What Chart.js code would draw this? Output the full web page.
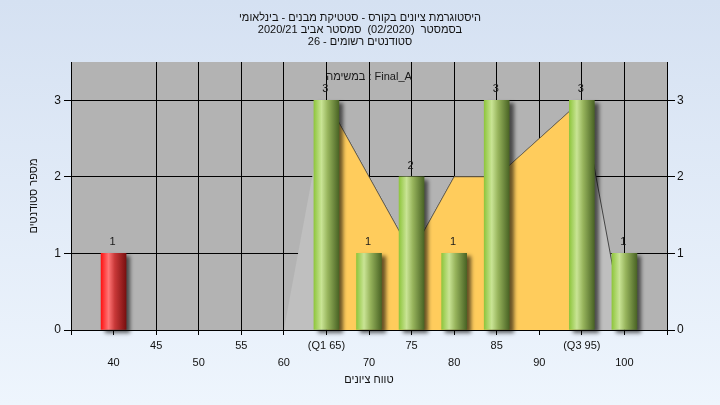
<!DOCTYPE html>
<html lang="he">
<head>
<meta charset="utf-8">
<title>היסטוגרמת ציונים</title>
<script src="https://cdn.jsdelivr.net/npm/chart.js@4/dist/chart.umd.min.js"></script>
<style>
  html, body { margin: 0; padding: 0; }
  body { width: 720px; height: 405px; overflow: hidden; background: linear-gradient(to bottom, #d5e1f2, #eef5fd); }
  #wrap { position: relative; width: 720px; height: 405px; }
</style>
</head>
<body>
<div id="wrap"><canvas id="histChart"></canvas></div>
<script>
const FONT = "'Liberation Sans', Arial, 'DejaVu Sans', sans-serif";

const TITLE_LINES = [
  'היסטוגרמת ציונים בקורס - סטטיקת מבנים - בינלאומי',
  'בסמסטר  (02/2020)  סמסטר אביב 2020/21',
  'סטודנטים רשומים - 26',
];
const TASK_LABEL = 'במשימה : Final_A';
const X_TITLE = 'טווח ציונים';
const Y_TITLE = 'מספר סטודנטים';

// histogram bins (grade) and number of students
const GRADES = [40, 65, 70, 75, 80, 85, 95, 100];
const COUNTS = [1, 3, 1, 2, 1, 3, 3, 1];

// polygon drawn behind the bars, the Q1..Q3 part is yellow
const CURVE_X = [60, 65, 75, 80, 85, 95, 100];
const CURVE_Y = [0, 3, 1, 2, 2, 3, 0];
const Q1 = 65, Q3 = 95;

// axis ticks; x labels alternate between two rows
const X_TICKS = [35, 40, 45, 50, 55, 60, 65, 70, 75, 80, 85, 90, 95, 100, 105];
const X_UPPER = ['', '', '45', '', '55', '', '(Q1 65)', '', '75', '', '85', '', '(Q3 95)', '', ''];
const X_LOWER = ['', '40', '', '50', '', '60', '', '70', '', '80', '', '90', '', '100', ''];
const Y_TICKS = [0, 1, 2, 3];

const PLOT_BG = '#b3b3b3';
const GREEN_STOPS = [[0, '#8fc63e'], [0.3, '#c9e495'], [0.55, '#97b45c'], [1, '#4a6425']];
const RED_STOPS = [[0, '#ff1414'], [0.3, '#ff7676'], [0.55, '#c83838'], [1, '#7a1010']];
const BAR_W = 25;

function barFill(ctx) {
  const xs = ctx.chart.scales.x;
  const fallback = ctx.dataIndex === 0 ? '#e03030' : '#9cc84a';
  if (!xs || ctx.type !== 'data') return fallback;
  const px = xs.getPixelForValue(GRADES[ctx.dataIndex]);
  if (!isFinite(px)) return fallback;
  const g = ctx.chart.ctx.createLinearGradient(px - BAR_W / 2, 0, px + BAR_W / 2, 0);
  (ctx.dataIndex === 0 ? RED_STOPS : GREEN_STOPS).forEach(([o, c]) => g.addColorStop(o, c));
  return g;
}

const plotBg = {
  id: 'plotBg',
  beforeDraw(chart) {
    const { ctx, chartArea: a } = chart;
    ctx.save();
    ctx.fillStyle = PLOT_BG;
    ctx.fillRect(a.left, a.top, a.right - a.left, a.bottom - a.top);
    ctx.restore();
  }
};

// soft shadow to the lower right of the bars
const barShadow = {
  id: 'barShadow',
  beforeDatasetDraw(chart, args) {
    if (args.meta.type !== 'bar') return;
    const c = chart.ctx;
    c.save();
    c.shadowColor = 'rgba(0,0,0,0.6)';
    c.shadowBlur = 4;
    c.shadowOffsetX = 4;
    c.shadowOffsetY = 3;
  },
  afterDatasetDraw(chart, args) {
    if (args.meta.type !== 'bar') return;
    chart.ctx.restore();
  }
};

const valueLabels = {
  id: 'valueLabels',
  afterDatasetsDraw(chart) {
    const c = chart.ctx;
    const a = chart.chartArea;
    c.save();
    c.font = '11px ' + FONT;
    c.fillStyle = '#1a1a1a';
    c.textAlign = 'center';
    c.textBaseline = 'middle';
    chart.getDatasetMeta(0).data.forEach((bar, i) => {
      c.fillText(String(COUNTS[i]), bar.x - 1, bar.y - 11);
    });
    c.fillText(TASK_LABEL, (a.left + a.right) / 2, a.top + 15);
    c.restore();
  }
};

const curve = CURVE_X.map((x, i) => ({ x, y: CURVE_Y[i] }));
const tickFont = { family: FONT, size: 11 };

new Chart(document.getElementById('histChart'), {
  type: 'bar',
  data: {
    datasets: [
      {
        type: 'bar',
        data: GRADES.map((g, i) => ({ x: g, y: COUNTS[i] })),
        backgroundColor: barFill,
        borderWidth: 0,
        barThickness: BAR_W,
        clip: false,
      },
      {
        type: 'line',
        data: curve.filter(p => p.x >= Q1 && p.x <= Q3),
        fill: 'origin',
        backgroundColor: '#ffcc5c',
        borderColor: 'rgba(70,70,70,0.55)',
        borderWidth: 1,
        pointRadius: 0,
        tension: 0,
      },
      {
        type: 'line',
        data: curve,
        fill: 'origin',
        backgroundColor: '#bfbfbf',
        borderColor: '#444',
        borderWidth: 1,
        pointRadius: 0,
        tension: 0,
        segment: { borderColor: c => c.p0DataIndex === 0 ? 'rgba(0,0,0,0)' : '#444' },
      },
    ],
  },
  options: {
    responsive: true, maintainAspectRatio: false,
    animation: false,
    layout: { padding: 0 },
    plugins: {
      legend: { display: false },
      tooltip: { enabled: false },
      title: {
        display: true,
        text: TITLE_LINES,
        color: '#111',
        font: { family: FONT, size: 11, weight: 'normal', lineHeight: 12 / 11 },
        padding: { top: 12, bottom: 14 },
      },
    },
    scales: {
      x: {
        type: 'linear', min: 35, max: 105, offset: false,
        afterBuildTicks: s => { s.ticks = X_TICKS.map(v => ({ value: v })); },
        afterFit: s => { s.height = 75; },
        grid: {
          offset: false,
          color: c => (c.tick && [35, 40, 105].includes(c.tick.value)) ? 'rgba(0,0,0,0)' : '#000',
          tickColor: '#000',
          tickLength: 5,
        },
        border: { color: '#000' },
        ticks: {
          autoSkip: false, maxRotation: 0, padding: 2,
          color: '#111',
          font: { family: FONT, size: 11, lineHeight: 17 / 11 },
          callback: v => {
            const i = X_TICKS.indexOf(v);
            return i < 0 ? '' : [X_UPPER[i], X_LOWER[i]];
          },
        },
        title: {
          display: true, text: X_TITLE, color: '#111',
          font: { family: FONT, size: 11 },
          padding: { top: 0, bottom: 18 },
        },
      },
      y: {
        position: 'left', min: 0, max: 3.5,
        afterBuildTicks: s => { s.ticks = Y_TICKS.map(v => ({ value: v })); },
        afterFit: s => { s.width = 71; },
        grid: { color: '#000', tickColor: '#000', tickLength: 7 },
        border: { color: '#000' },
        ticks: { color: '#111', font: { family: FONT, size: 12 }, padding: 3 },
        title: {
          display: true, text: Y_TITLE, color: '#111',
          font: { family: FONT, size: 11 },
          padding: { top: 27, bottom: 0 },
        },
      },
      y2: {
        position: 'right', min: 0, max: 3.5,
        afterBuildTicks: s => { s.ticks = Y_TICKS.map(v => ({ value: v })); },
        afterFit: s => { s.width = 53; },
        grid: { drawOnChartArea: false, color: '#000', tickColor: '#000', tickLength: 8 },
        border: { color: '#000' },
        ticks: { color: '#111', font: { family: FONT, size: 12 }, padding: 2 },
      },
    },
  },
  plugins: [plotBg, barShadow, valueLabels],
});
</script>
</body>
</html>
